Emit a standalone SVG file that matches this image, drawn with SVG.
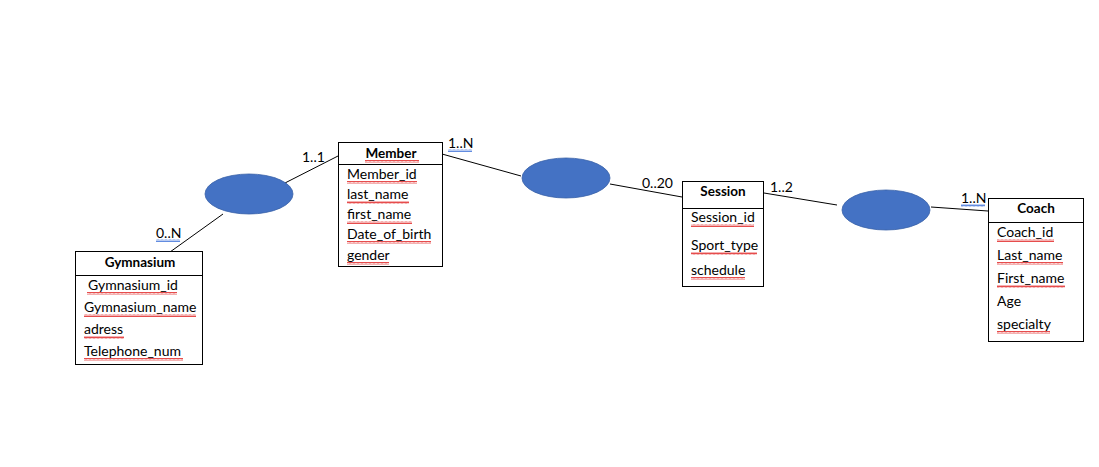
<svg xmlns="http://www.w3.org/2000/svg" width="1099" height="467" viewBox="0 0 1099 467">
<defs>
<pattern id="red" patternUnits="userSpaceOnUse" width="4" height="3"><path d="M0 2.5 L1 0.5 L2 2.5 L3 0.5 L4 2.5" fill="none" stroke="#e02020" stroke-width="0.8"/></pattern>
<pattern id="blue" patternUnits="userSpaceOnUse" width="4" height="3"><path d="M0 2.5 L1 0.5 L2 2.5 L3 0.5 L4 2.5" fill="none" stroke="#3a6fd8" stroke-width="0.8"/></pattern>
</defs>
<style>
text{font-family:"Lato","Liberation Sans",sans-serif;font-size:14px;fill:#000}
.t{font-weight:bold;text-anchor:middle;font-size:13.5px}
.box{fill:#fff;stroke:#000;stroke-width:1}
.rel{fill:#4472c4;stroke:#3a62a8;stroke-width:0.8}
.c{stroke:#000;stroke-width:1;fill:none}
.rs{fill:url(#red)}
.bs{fill:url(#blue)}
</style>
<rect width="1099" height="467" fill="#fff"/>
<g id="connectors">
<line class="c" x1="170" y1="252" x2="223" y2="214"/>
<line class="c" x1="283" y1="184" x2="338" y2="156"/>
<line class="c" x1="442" y1="154" x2="521" y2="176"/>
<line class="c" x1="610" y1="184" x2="682" y2="197"/>
<line class="c" x1="764" y1="193" x2="837" y2="205"/>
<line class="c" x1="931" y1="207" x2="988" y2="211"/>
<text x="302" y="162">1..1</text>
<text x="156" y="238">0..N</text><rect class="bs" x="156" y="239" width="24" height="3"/>
<text x="448" y="148">1..N</text><rect class="bs" x="448" y="149" width="24" height="3"/>
<text x="642" y="188">0..20</text>
<text x="770" y="192">1..2</text>
<text x="961" y="203">1..N</text><rect class="bs" x="961" y="204" width="24" height="3"/>
</g>
<g id="rel1"><ellipse class="rel" cx="249" cy="194" rx="44" ry="20"/></g>
<g id="rel2"><ellipse class="rel" cx="566" cy="178" rx="44" ry="20"/></g>
<g id="rel3"><ellipse class="rel" cx="886" cy="210" rx="44" ry="20"/></g>
<g id="gymnasium">
<rect class="box" x="75.5" y="251.5" width="127" height="113"/>
<line class="c" x1="75.5" y1="275.5" x2="202.5" y2="275.5"/>
<text class="t" x="140" y="267">Gymnasium</text>
<text x="88" y="290">Gymnasium_id</text><rect class="rs" x="87" y="292" width="90" height="3"/>
<text x="84" y="312">Gymnasium_name</text><rect class="rs" x="84" y="314" width="112" height="3"/>
<text x="84" y="334">adress</text><rect class="rs" x="84" y="336" width="40" height="3"/>
<text x="84" y="356">Telephone_num</text><rect class="rs" x="84" y="358" width="99" height="3"/>
</g>
<g id="member">
<rect class="box" x="338.5" y="142.5" width="104" height="124"/>
<line class="c" x1="338.5" y1="164.5" x2="442.5" y2="164.5"/>
<text class="t" x="391" y="158">Member</text><rect class="rs" x="365" y="160" width="54" height="3"/>
<text x="347" y="179">Member_id</text><rect class="rs" x="347" y="181" width="70" height="3"/>
<text x="347" y="199">last_name</text><rect class="rs" x="347" y="201" width="62" height="3"/>
<text x="347" y="219">first_name</text><rect class="rs" x="347" y="221" width="65" height="3"/>
<text x="347" y="239">Date_of_birth</text><rect class="rs" x="347" y="241" width="84" height="3"/>
<text x="347" y="260">gender</text><rect class="rs" x="347" y="262" width="42" height="3"/>
</g>
<g id="session">
<rect class="box" x="682.5" y="181.5" width="81" height="105"/>
<line class="c" x1="682.5" y1="208.5" x2="763.5" y2="208.5"/>
<text class="t" x="723" y="196">Session</text>
<text x="691" y="222">Session_id</text><rect class="rs" x="691" y="224" width="63" height="3"/>
<text x="691" y="250">Sport_type</text><rect class="rs" x="691" y="252" width="66" height="3"/>
<text x="691" y="275">schedule</text><rect class="rs" x="691" y="277" width="54" height="3"/>
</g>
<g id="coach">
<rect class="box" x="988.5" y="198.5" width="95" height="143"/>
<line class="c" x1="988.5" y1="222.5" x2="1083.5" y2="222.5"/>
<text class="t" x="1036" y="213">Coach</text>
<text x="997" y="237">Coach_id</text><rect class="rs" x="997" y="239" width="57" height="3"/>
<text x="997" y="260">Last_name</text><rect class="rs" x="997" y="262" width="66" height="3"/>
<text x="997" y="283">First_name</text><rect class="rs" x="997" y="285" width="68" height="3"/>
<text x="997" y="306">Age</text>
<text x="997" y="329">specialty</text><rect class="rs" x="997" y="331" width="53" height="3"/>
</g>
</svg>
